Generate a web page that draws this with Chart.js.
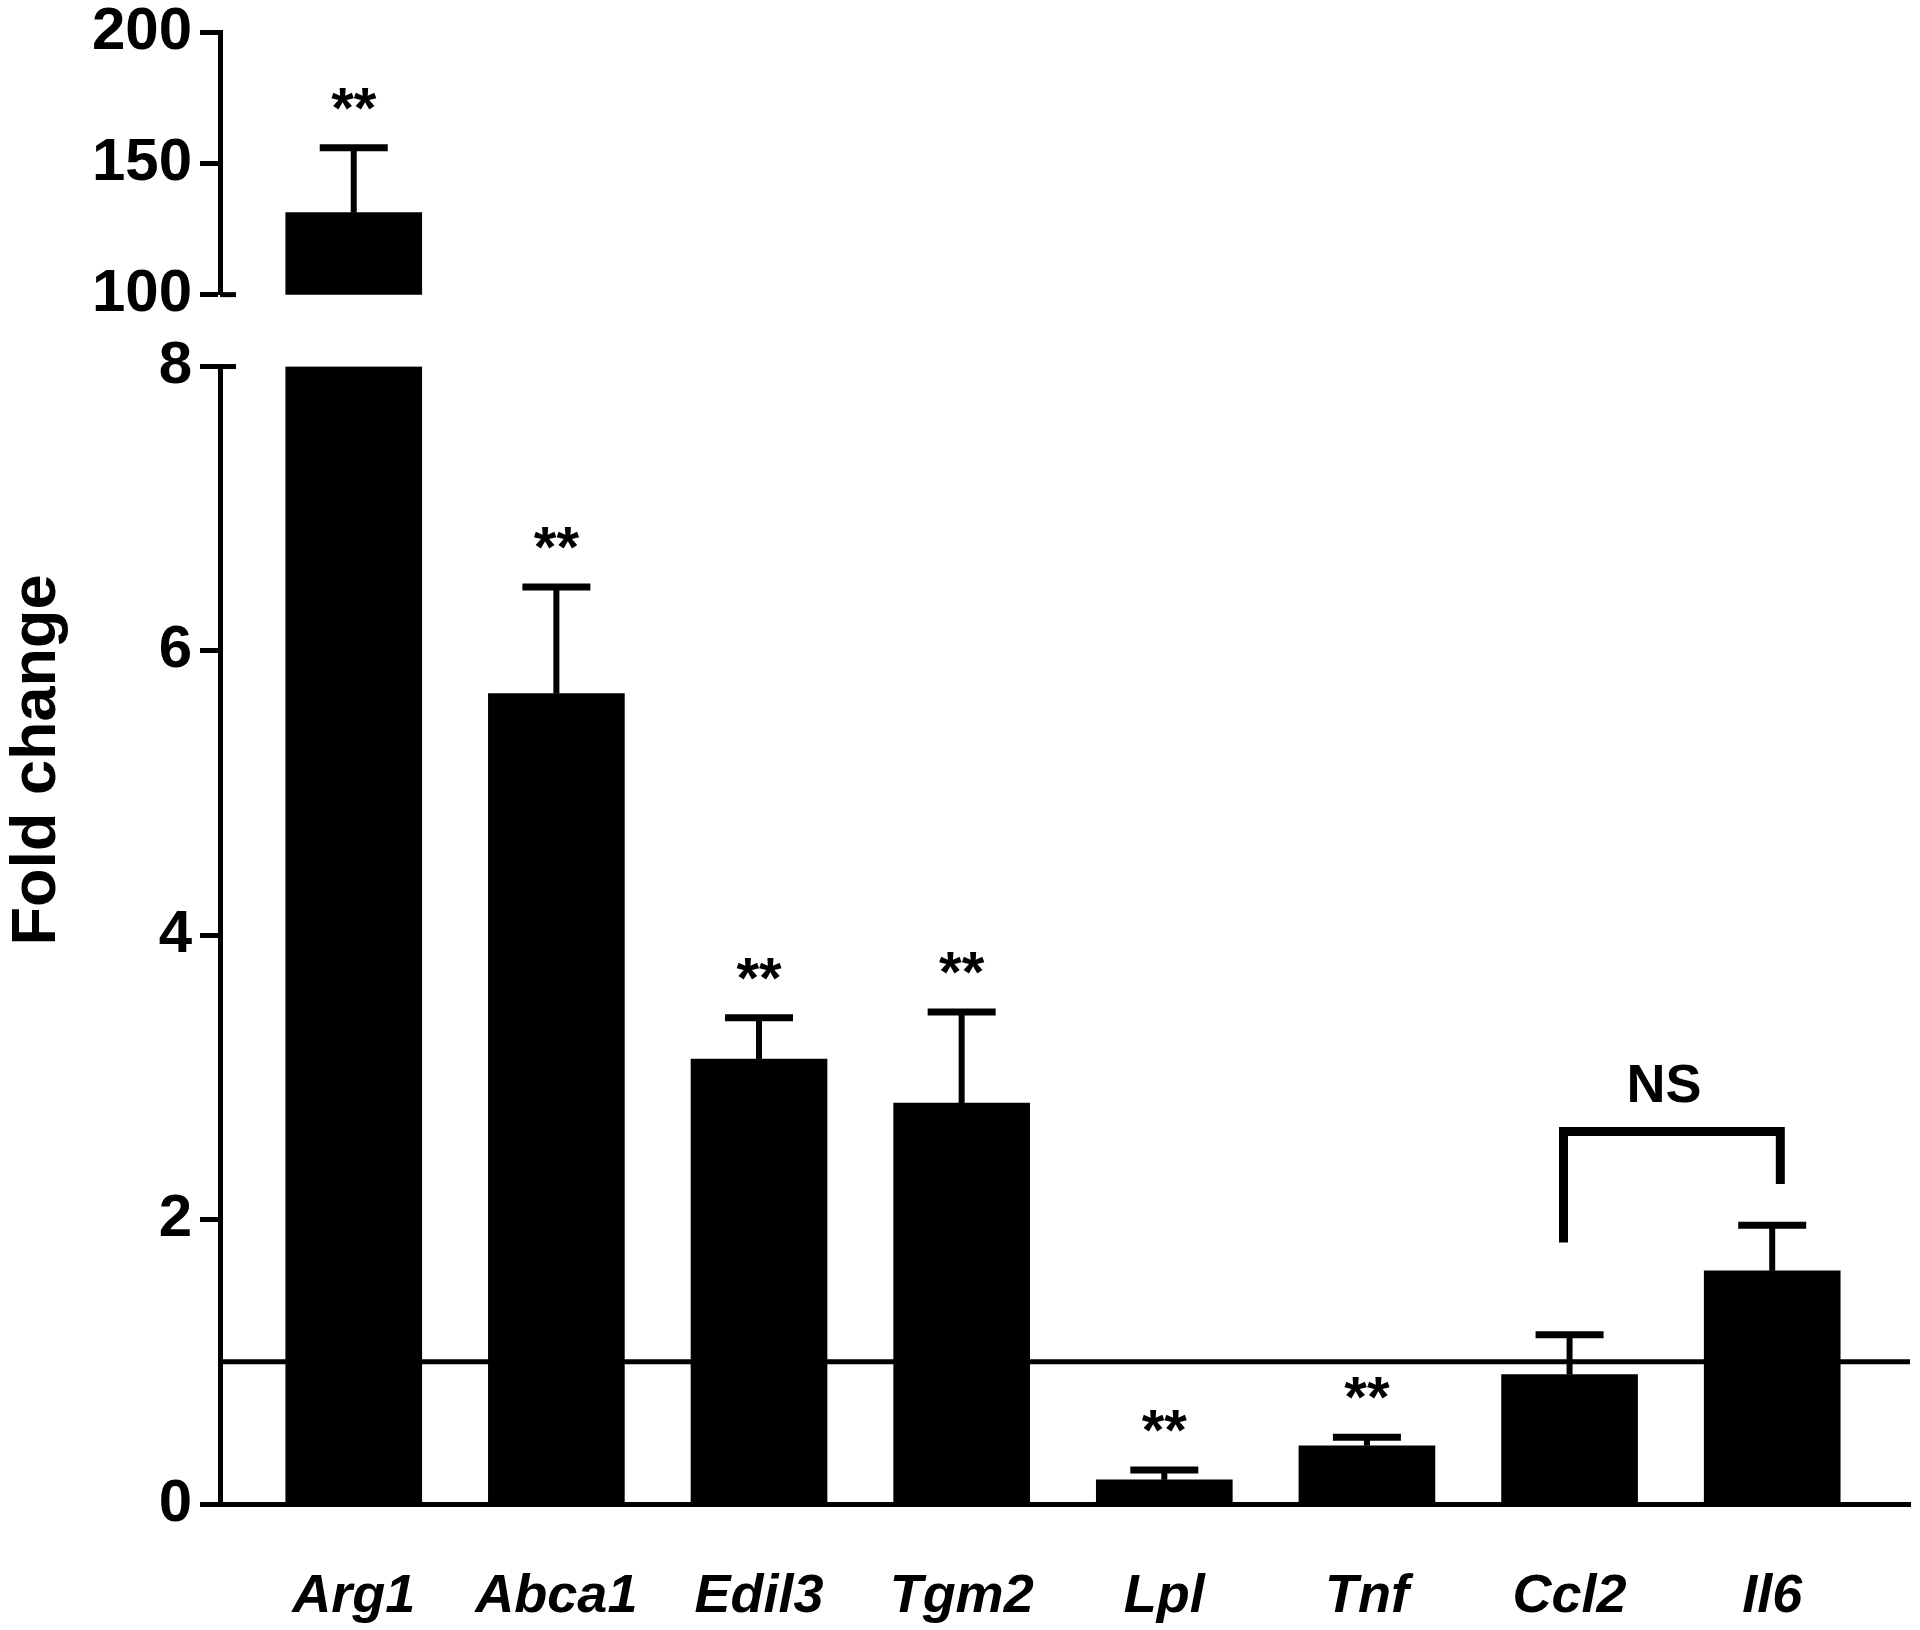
<!DOCTYPE html>
<html>
<head>
<meta charset="utf-8">
<script src="https://cdn.jsdelivr.net/npm/chart.js@4.4.0/dist/chart.umd.min.js"></script>
<style>
  html, body { margin: 0; padding: 0; background: #fff; }
  #wrap { width: 1920px; height: 1630px; }
</style>
</head>
<body>
<div id="wrap"><canvas id="foldChart"></canvas></div>
<script>
const genes = ['Arg1', 'Abca1', 'Edil3', 'Tgm2', 'Lpl', 'Tnf', 'Ccl2', 'Il6'];
const foldChange = [131.2, 5.70, 3.13, 2.82, 0.17, 0.41, 0.91, 1.64];
const errorTop = [155.9, 6.45, 3.42, 3.46, 0.24, 0.47, 1.19, 1.96];
const stars = ['**', '**', '**', '**', '**', '**', '', ''];
const lowRange = [0, 8];
const highRange = [100, 200];
const controlLevel = 1;

// NS bracket between Ccl2 and Il6
const bracket = { from: 5.97, to: 7.04, top: 2.62, leftEnd: 1.84, rightEnd: 2.25, label: 'NS' };

const FONT = "'Liberation Sans', Arial, sans-serif";
const ctx = document.getElementById('foldChart');

const lowData = genes.map((g, i) => ({ x: i, y: Math.min(foldChange[i], lowRange[1]) }));
const highData = genes.map((g, i) => ({ x: i, y: foldChange[i] > lowRange[1] ? [highRange[0], foldChange[i]] : null }))
    .filter(d => d.y !== null);

const figureMarks = {
    id: 'figureMarks',
    afterDatasetsDraw(chart) {
        const c = chart.ctx;
        const area = chart.chartArea;
        const x = chart.scales.x;
        const yLow = chart.scales.y;
        const yHigh = chart.scales.yTop;
        c.save();
        c.strokeStyle = '#000';
        c.fillStyle = '#000';
        c.lineCap = 'butt';

        // control line at fold change = 1
        const yc = yLow.getPixelForValue(controlLevel);
        c.lineWidth = 5;
        c.beginPath();
        c.moveTo(area.left, yc);
        c.lineTo(area.right, yc);
        c.stroke();

        // error bars + significance stars
        genes.forEach((g, i) => {
            const axis = foldChange[i] > lowRange[1] ? yHigh : yLow;
            const px = x.getPixelForValue(i);
            const p0 = axis.getPixelForValue(foldChange[i]);
            const p1 = axis.getPixelForValue(errorTop[i]);
            c.lineWidth = 6;
            c.beginPath();
            c.moveTo(px, p0);
            c.lineTo(px, p1);
            c.stroke();
            c.lineWidth = 7;
            c.beginPath();
            c.moveTo(px - 34, p1);
            c.lineTo(px + 34, p1);
            c.stroke();
            if (stars[i]) {
                c.font = 'bold 58px ' + FONT;
                c.textAlign = 'center';
                c.textBaseline = 'alphabetic';
                c.fillText(stars[i], px, p1 - 20);
            }
        });

        // NS bracket
        const bx0 = x.getPixelForValue(bracket.from);
        const bx1 = x.getPixelForValue(bracket.to);
        const bt = yLow.getPixelForValue(bracket.top);
        c.lineWidth = 9;
        c.lineJoin = 'miter';
        c.beginPath();
        c.moveTo(bx0, yLow.getPixelForValue(bracket.leftEnd));
        c.lineTo(bx0, bt);
        c.lineTo(bx1, bt);
        c.lineTo(bx1, yLow.getPixelForValue(bracket.rightEnd));
        c.stroke();
        c.font = 'bold 54px ' + FONT;
        c.textAlign = 'center';
        c.textBaseline = 'alphabetic';
        c.fillText(bracket.label, (bx0 + bx1) / 2 - 8, bt - 29);

        // break caps on the axis
        c.lineWidth = 5;
        [[yHigh, highRange[0]], [yLow, lowRange[1]]].forEach(([ax, v]) => {
            const py = ax.getPixelForValue(v);
            c.beginPath();
            c.moveTo(area.left, py);
            c.lineTo(area.left + 16, py);
            c.stroke();
        });

        // y title
        c.translate(55, (yHigh.top + yLow.bottom) / 2 - 8);
        c.rotate(-Math.PI / 2);
        c.font = 'bold 63px ' + FONT;
        c.textAlign = 'center';
        c.textBaseline = 'alphabetic';
        c.fillText('Fold change', 0, 0);
        c.restore();
    }
};

const yCommon = {
    type: 'linear',
    position: 'left',
    stack: 'fold',
    grid: { display: true, drawOnChartArea: false, drawTicks: true, tickLength: 20, tickWidth: 5, tickColor: '#000' },
    border: { display: true, width: 5, color: '#000' },
    ticks: { color: '#000', padding: 8, font: { family: FONT, size: 60, weight: 'bold', lineHeight: 0.8 } },
    afterFit(scale) { scale.width = 220; }
};

new Chart(ctx, {
    type: 'bar',
    data: {
        datasets: [{
            label: 'Fold change',
            data: lowData,
            yAxisID: 'y',
            backgroundColor: '#000',
            barThickness: 136,
            grouped: false
        }, {
            label: 'Fold change (upper)',
            data: highData,
            yAxisID: 'yTop',
            backgroundColor: '#000',
            barThickness: 136,
            grouped: false
        }]
    },
    options: {
        responsive: true,
        maintainAspectRatio: false,
        animation: false,
        layout: { padding: { top: 30, right: 10, left: 0, bottom: 0 } },
        plugins: { legend: { display: false }, tooltip: { enabled: false } },
        scales: {
            x: {
                type: 'linear',
                offset: false,
                min: -0.66,
                max: 7.68,
                grid: { display: false, offset: false },
                border: { display: true, width: 5, color: '#000' },
                afterBuildTicks(axis) { axis.ticks = genes.map((g, i) => ({ value: i })); },
                ticks: {
                    color: '#000',
                    padding: 58,
                    autoSkip: false,
                    maxRotation: 0,
                    callback: (v) => genes[v],
                    font: { family: FONT, size: 54, weight: 'bold', style: 'italic', lineHeight: 1 }
                },
                afterFit(scale) { scale.height = 126; }
            },
            y: Object.assign({}, yCommon, {
                min: lowRange[0], max: lowRange[1], stackWeight: 1139,
                ticks: Object.assign({}, yCommon.ticks, { stepSize: 2 })
            }),
            yGap: {
                type: 'linear', position: 'left', stack: 'fold', stackWeight: 72,
                min: 0, max: 1,
                grid: { display: false }, border: { display: false }, ticks: { display: false },
                afterFit(scale) { scale.width = 220; }
            },
            yTop: Object.assign({}, yCommon, {
                min: highRange[0], max: highRange[1], stackWeight: 263,
                ticks: Object.assign({}, yCommon.ticks, { stepSize: 50 })
            })
        }
    },
    plugins: [figureMarks]
});
</script>
</body>
</html>
